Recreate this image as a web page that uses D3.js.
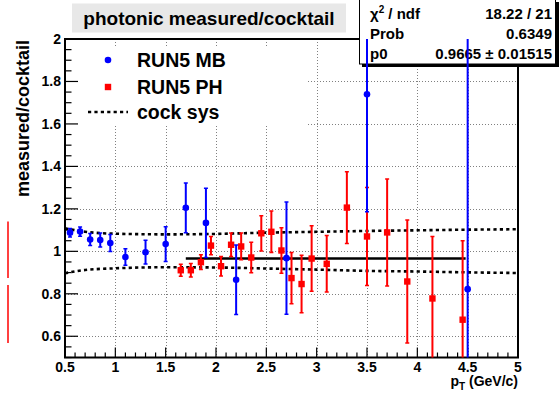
<!DOCTYPE html>
<html><head><meta charset="utf-8">
<script src="https://cdn.jsdelivr.net/npm/d3@7"></script>
<style>body{margin:0;background:#fff}svg{display:block}text{font-family:"Liberation Sans",Arial,sans-serif;font-weight:bold}</style>
</head><body>
<script>
// ---- data ----
const mbX   = [0.55,0.65,0.75,0.85,0.95,1.1,1.3,1.5,1.7,1.9,2.2,2.7,3.5,4.5];
const mbY   = [1.088,1.093,1.056,1.053,1.039,0.973,0.996,1.034,1.205,1.134,0.866,0.968,1.74,0.822];
const mbErr = [0.02,0.022,0.028,0.033,0.04,0.039,0.056,0.082,0.117,0.163,0.164,0.264,0.553,1.2];

const phX   = [1.65,1.75,1.85,1.95,2.05,2.15,2.25,2.35,2.45,2.55,2.65,2.75,2.85,2.95,3.1,3.3,3.5,3.7,3.9,4.15,4.45];
const phY   = [0.911,0.911,0.949,1.027,0.93,1.031,1.023,0.971,1.085,1.092,1.004,0.874,0.846,0.966,0.941,1.206,1.07,1.089,0.858,0.778,0.678];
const phErr = [0.028,0.032,0.035,0.043,0.046,0.055,0.063,0.072,0.083,0.098,0.107,0.121,0.135,0.154,0.133,0.169,0.231,0.252,0.29,0.292,0.372];

const sysX  = [0.5,0.7,1.0,1.5,2.0,2.5,3.0,3.5,4.0,4.5,5.0];
const sysUp = [1.108,1.092,1.083,1.08,1.082,1.088,1.092,1.096,1.099,1.102,1.104];
const sysLo = [0.897,0.912,0.92,0.925,0.924,0.919,0.914,0.908,0.905,0.901,0.898];

const fitP0 = 0.9665;
const fitRange = [1.7, 4.48];

const xTicks = [0.5,1,1.5,2,2.5,3,3.5,4,4.5,5];
const yTicks = [0.6,0.8,1,1.2,1.4,1.6,1.8,2];
const xDomain = [0.5,5];
const yDomain = [0.5,2];

const titleText = "photonic measured/cocktail";
const yTitle = "measured/cocktail";
const legendLabels = ["RUN5 MB","RUN5 PH","cock sys"];
const statsLabels = ["ndf","Prob","p0"];
const statsValues = ["18.22 / 21","0.6349","0.9665 \u00b1 0.01515"];
const edgeMarks = [[1.14,0.875],[0.842,0.568]];

// ---- layout ----
const W = 560, H = 396;
const L = 65, R = 518, T = 39, B = 357.5;
const svg = d3.select("body").append("svg").attr("width",W).attr("height",H);
const x = d3.scaleLinear().domain(xDomain).range([L,R]);
const y = d3.scaleLinear().domain(yDomain).range([B,T]);
const RED = "#ff0000", BLUE = "#0000ff";

// grid
const grid = svg.append("g").attr("stroke","#808080").attr("stroke-width",1).attr("stroke-dasharray","1,2");
grid.selectAll("line.gx").data(xTicks.filter(v=>v>0.5&&v<5)).join("line")
  .attr("x1",d=>Math.round(x(d))+0.5).attr("x2",d=>Math.round(x(d))+0.5).attr("y1",T).attr("y2",B);
grid.selectAll("line.gy").data(yTicks.filter(v=>v<2)).join("line")
  .attr("y1",d=>Math.round(y(d))+0.5).attr("y2",d=>Math.round(y(d))+0.5).attr("x1",L).attr("x2",R);

// legend box (white, covers grid)
svg.append("rect").attr("x",L+1).attr("y",46).attr("width",240).attr("height",79).attr("fill","#fff");

// ticks
const tk = svg.append("g").attr("stroke","#000").attr("stroke-width",1.2);
d3.range(0,46).forEach(i=>{
  const v = xDomain[0] + i*0.1, major = i%5===0;
  tk.append("line").attr("x1",x(v)).attr("x2",x(v)).attr("y1",B).attr("y2",B-(major?10:5));
});
d3.range(0,31).forEach(i=>{
  const v = yDomain[0] + i*0.05;
  const isMaj = Math.abs((v*5)-Math.round(v*5))<1e-6;
  tk.append("line").attr("y1",y(v)).attr("y2",y(v)).attr("x1",L).attr("x2",L+(isMaj?13:6.5));
});
// frame
svg.append("rect").attr("x",L).attr("y",T).attr("width",R-L).attr("height",B-T)
  .attr("fill","none").attr("stroke","#000").attr("stroke-width",2);

// tick labels
svg.append("g").selectAll("text").data(xTicks).join("text")
  .attr("x",d=>x(d)).attr("y",372).attr("text-anchor","middle").attr("font-size",14)
  .text(d=>d3.format("")(d));
svg.append("g").selectAll("text").data(yTicks).join("text")
  .attr("x",61).attr("y",d=>y(d)+5).attr("text-anchor","end").attr("font-size",14)
  .text(d=>d3.format("")(d));

// axis titles
svg.append("text").attr("transform",`translate(29,${T+1}) rotate(-90)`).attr("text-anchor","end")
  .attr("font-size",18).text(yTitle);
const xt = svg.append("text").attr("x",R).attr("y",386).attr("text-anchor","end").attr("font-size",14);
xt.append("tspan").text("p");
xt.append("tspan").attr("font-size",10).attr("dy",4).text("T");
xt.append("tspan").attr("dy",-4).text(" (GeV/c)");

// title box
svg.append("rect").attr("x",72).attr("y",3.5).attr("width",274).attr("height",29).attr("fill","#e8e8e8");
svg.append("text").attr("x",209).attr("y",25).attr("text-anchor","middle").attr("font-size",19).text(titleText);

// edge marks
svg.append("g").selectAll("line").data(edgeMarks).join("line")
  .attr("x1",8).attr("x2",8).attr("y1",d=>y(d[0])).attr("y2",d=>y(d[1]))
  .attr("stroke","#ff4040").attr("stroke-width",2);

// stats box
svg.append("rect").attr("x",362).attr("y",2).attr("width",197).attr("height",65).attr("fill","#000");
svg.append("rect").attr("x",359.5).attr("y",-1).attr("width",196).attr("height",65)
  .attr("fill","#fff").attr("stroke","#000").attr("stroke-width",1);
const sRows = [18.5,38.5,58.5];
statsLabels.forEach((s,i)=>{
  const t = svg.append("text").attr("x",370).attr("y",sRows[i]).attr("font-size",15);
  if(i===0){ t.append("tspan").text("\u03c7"); t.append("tspan").attr("font-size",10).attr("dy",-6).text("2");
    t.append("tspan").attr("dy",6).text(" / "+s); }
  else t.text(s);
  svg.append("text").attr("x",552).attr("y",sRows[i]).attr("text-anchor","end").attr("font-size",15).text(statsValues[i]);
});

// data layer (clipped)
svg.append("clipPath").attr("id","clip").append("rect").attr("x",L).attr("y",T).attr("width",R-L).attr("height",B-T);
const g = svg.append("g").attr("clip-path","url(#clip)");

// sys lines
const line = d3.line().x((d,i)=>x(sysX[i])).y(d=>y(d)).curve(d3.curveMonotoneX);
[sysUp,sysLo].forEach(arr=>{
  g.append("path").attr("d",line(arr)).attr("fill","none").attr("stroke","#000")
   .attr("stroke-width",2.6).attr("stroke-dasharray","3.2,3.2");
});

// fit line
g.append("line").attr("x1",x(fitRange[0])).attr("x2",x(fitRange[1])).attr("y1",y(fitP0)).attr("y2",y(fitP0))
  .attr("stroke","#000").attr("stroke-width",2.4);

function drawSeries(X,Y,E,color,shape){
  const s = g.append("g");
  X.forEach((xv,i)=>{
    const cx = x(xv), lo = y(Y[i]-E[i]), hi = y(Y[i]+E[i]);
    s.append("line").attr("x1",cx).attr("x2",cx).attr("y1",lo).attr("y2",hi).attr("stroke",color).attr("stroke-width",2);
    [lo,hi].forEach(yy=>s.append("line").attr("x1",cx-2).attr("x2",cx+2).attr("y1",yy).attr("y2",yy).attr("stroke",color).attr("stroke-width",1.5));
    if(shape==="circle") s.append("circle").attr("cx",cx).attr("cy",y(Y[i])).attr("r",3.3).attr("fill",color);
    else s.append("rect").attr("x",cx-3.2).attr("y",y(Y[i])-3.2).attr("width",6.4).attr("height",6.4).attr("fill",color);
  });
}
drawSeries(phX,phY,phErr,RED,"square");
drawSeries(mbX,mbY,mbErr,BLUE,"circle");

// legend
const lg = svg.append("g");
lg.append("circle").attr("cx",108).attr("cy",60).attr("r",3.3).attr("fill",BLUE);
lg.append("rect").attr("x",104.8).attr("y",83.8).attr("width",6.4).attr("height",6.4).attr("fill",RED);
lg.append("line").attr("x1",88).attr("x2",128).attr("y1",112).attr("y2",112).attr("stroke","#000")
  .attr("stroke-width",2.6).attr("stroke-dasharray","3.2,3.2");
[60,87,112].forEach((yy,i)=>lg.append("text").attr("x",137).attr("y",yy+7).attr("font-size",19.5).text(legendLabels[i]));
</script>
</body></html>
